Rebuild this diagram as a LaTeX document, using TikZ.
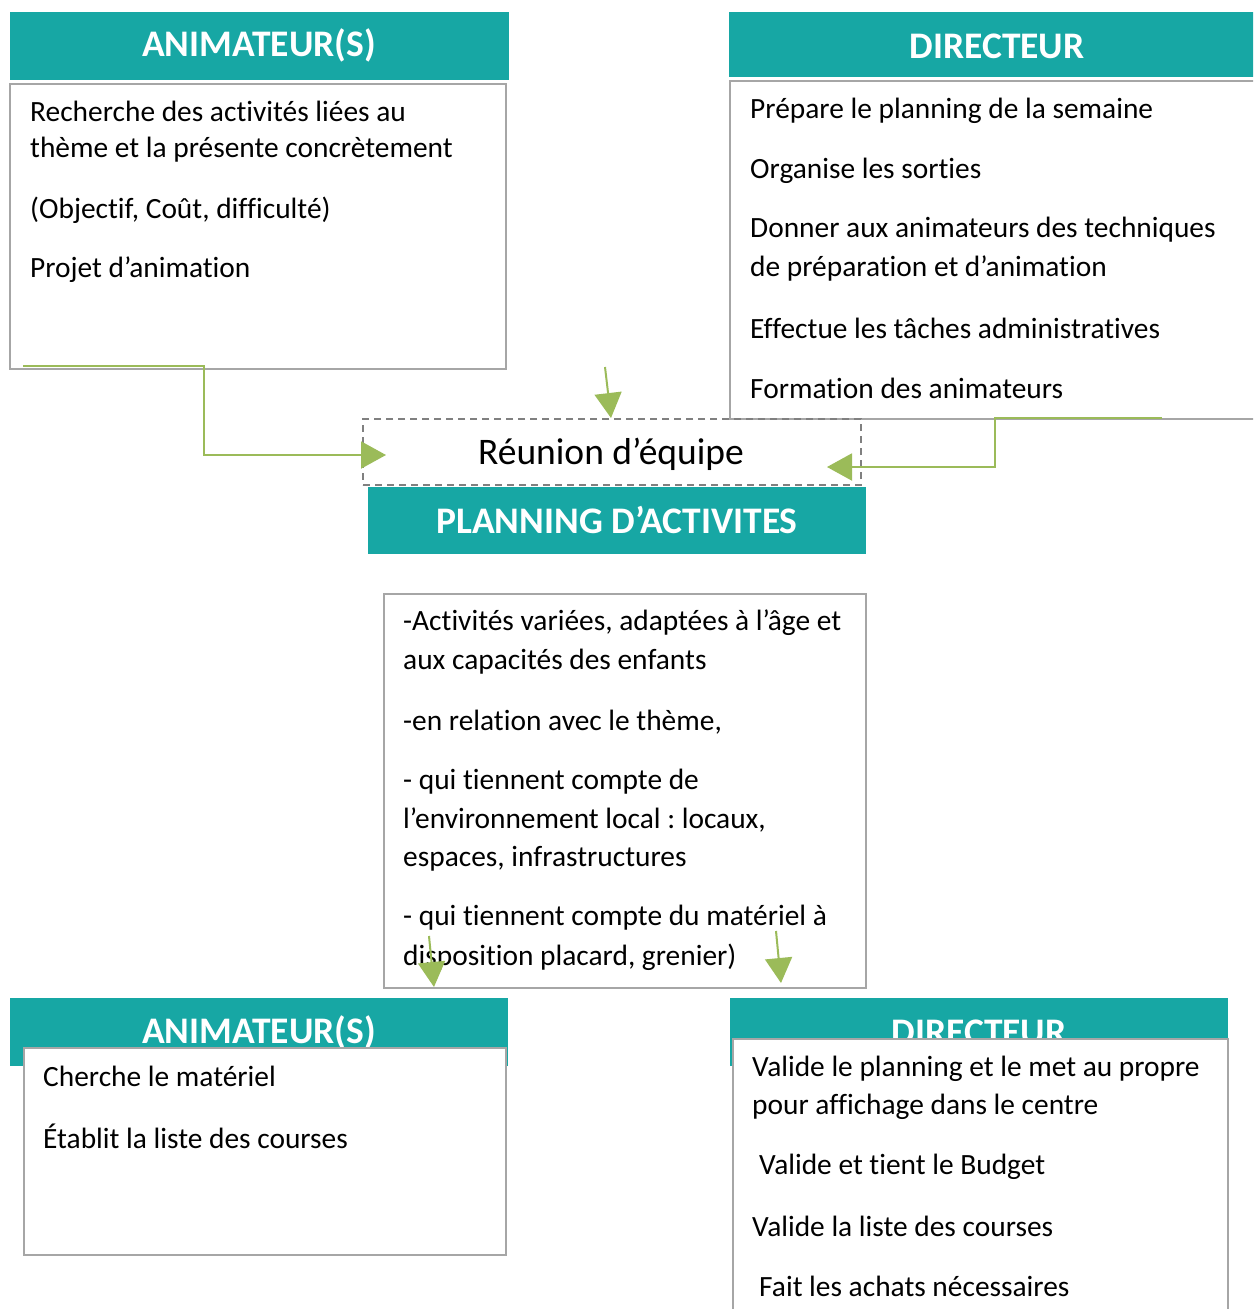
\documentclass[tikz,border=0pt]{standalone}
\usepackage{fontspec}
\setmainfont{Carlito}[Ligatures={NoCommon,NoRequired,NoContextual},Contextuals=NoAlternate]
\frenchspacing
\newcommand\tI{t\kern0pt i}
\usetikzlibrary{arrows.meta}
\definecolor{teal1}{HTML}{17A7A4}
\definecolor{gray1}{HTML}{A6A6A6}
\definecolor{gray2}{HTML}{808080}
\definecolor{green1}{HTML}{9BBB59}
\tikzset{
  header/.style={fill=teal1, draw=none, anchor=north west, inner sep=0pt},
  htext/.style={text=white, font=\fontsize{37.5}{42}\selectfont\bfseries, inner sep=0pt},
  boxs/.style={draw=gray1, line width=2pt, fill=white, anchor=north west, inner sep=0pt},
  ln/.style={anchor=west, inner sep=0pt, font=\fontsize{29.4}{39}\selectfont},
  flow/.style={draw=green1, line width=2pt, -{Triangle[length=25pt,width=27pt]}},
}
\begin{document}
\begin{tikzpicture}[x=1pt,y=-1pt]
\clip (0,0) rectangle (1253,1309);
\fill[white] (0,0) rectangle (1253,1309);

% ---- top left
\node[header, minimum width=499pt, minimum height=68pt] (hA) at (10,12) {};
\node[htext] (hAt) at (259,45) {ANIMATEUR(S)};
\node[boxs, minimum width=496pt, minimum height=285pt] (bA) at (9,83) {};
\node[ln] (a1) at (30,111) {Recherche des ac\tI vités liées au};
\node[ln] (a2) at (30,150) {thème et la présente concrètement};
\node[ln] (a3) at (30,210) {(Objectif, Coût, difficulté)};
\node[ln] (a4) at (30,270) {Projet d’anima\tI on};

% ---- top right
\node[header, minimum width=530pt, minimum height=65pt] (hD) at (729,12) {};
\node[htext] (hDt) at (997,46) {DIRECTEUR};
\node[boxs, minimum width=540pt, minimum height=338pt] (bD) at (729,80) {};
\node[ln] (d1) at (750,111) {Prépare le planning de la semaine};
\node[ln] (d2) at (750,171) {Organise les sorties};
\node[ln] (d3) at (750,230) {Donner aux animateurs des techniques};
\node[ln] (d4) at (750,269) {de prépara\tI on et d’anima\tI on};
\node[ln] (d5) at (750,328) {Effectue les tâches administra\tI ves};
\node[ln] (d6) at (750,388) {Forma\tI on des animateurs};

% ---- reunion
\node[draw=gray2, line width=2pt, dash pattern=on 7pt off 5pt, anchor=north west, inner sep=0pt,
      minimum width=498pt, minimum height=66pt] (reu) at (362,418) {};
\node[inner sep=0pt, font=\fontsize{37.5}{42}\selectfont] (reut) at (611,454) {Réunion d’équipe};

% ---- planning
\node[header, minimum width=498pt, minimum height=67pt] (hP) at (368,487) {};
\node[htext] (hPt) at (617,520) {PLANNING D’ACTIVITES};
\node[boxs, minimum width=482pt, minimum height=394pt] (bP) at (383,593) {};
\node[ln] (p1) at (403,623) {-Ac\tI vités variées, adaptées à l’âge et};
\node[ln] (p2) at (403,662) {aux capacités des enfants};
\node[ln] (p3) at (403,722) {-en rela\tI on avec le thème,};
\node[ln] (p4) at (403,782) {- qui \tI ennent compte de};
\node[ln] (p5) at (403,820) {l’environnement local : locaux,};
\node[ln] (p6) at (403,859) {espaces, infrastructures};
\node[ln] (p7) at (403,918) {- qui \tI ennent compte du matériel à};
\node[ln] (p8) at (403,957) {disposi\tI on placard, grenier)};

% ---- bottom left
\node[header, minimum width=498pt, minimum height=68pt] (hA2) at (10,998) {};
\node[htext] (hA2t) at (259,1032) {ANIMATEUR(S)};
\node[boxs, minimum width=482pt, minimum height=207pt] (bA2) at (23,1047) {};
\node[ln] (e1) at (43,1076) {Cherche le matériel};
\node[ln] (e2) at (43,1136) {Établit la liste des courses};

% ---- bottom right
\node[header, minimum width=498pt, minimum height=68pt] (hD2) at (730,998) {};
\node[htext] (hD2t) at (979,1032) {DIRECTEUR};
\node[boxs, minimum width=495pt, minimum height=300pt] (bD2) at (732,1038) {};
\node[ln] (f1) at (752,1069) {Valide le planning et le met au propre};
\node[ln] (f2) at (752,1107) {pour affichage dans le centre};
\node[ln] (f3) at (759,1167) {Valide et \tI ent le Budget};
\node[ln] (f4) at (752,1226) {Valide la liste des courses};
\node[ln] (f5) at (759,1286) {Fait les achats nécessaires};

% ---- connectors
\coordinate (s1) at (23,366);
\coordinate (t1) at (386,455);
\draw[flow] (s1) -- (204,366) |- (t1);
\coordinate (s2) at (605,367);
\coordinate (t2) at (611,418);
\draw[flow] (s2) -- (t2);
\coordinate (s3) at (1162,418);
\coordinate (t3) at (827,467);
\draw[flow] (s3) -- (995,418) |- (t3);
\coordinate (s4) at (429,936);
\coordinate (t4) at (434,987);
\draw[flow] (s4) -- (t4);
\coordinate (s5) at (776,931);
\coordinate (t5) at (781,983);
\draw[flow] (s5) -- (t5);
\end{tikzpicture}
\end{document}
